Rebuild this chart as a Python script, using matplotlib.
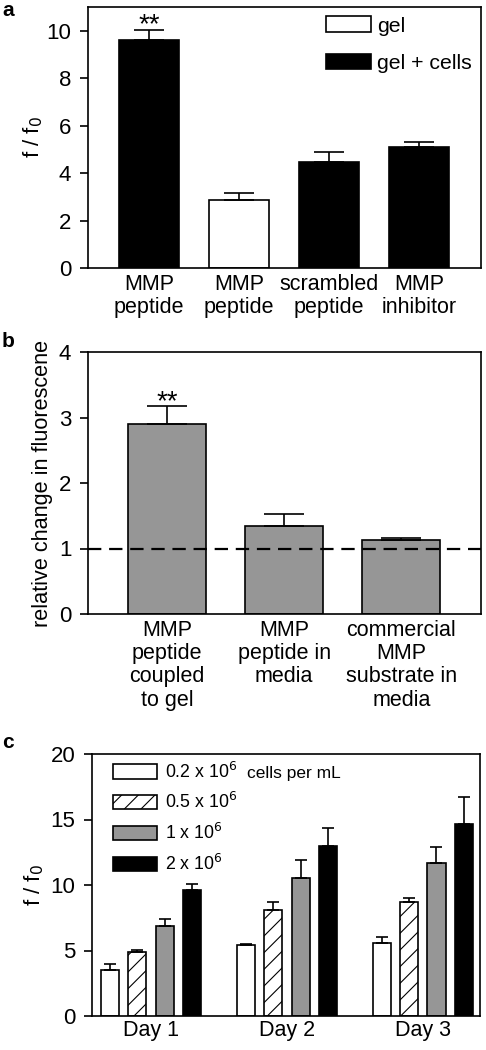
import numpy as np
import matplotlib
matplotlib.use("Agg")
import matplotlib.pyplot as plt
from matplotlib.patches import Patch

plt.rcParams['font.family'] = ['Liberation Sans', 'DejaVu Sans']
plt.rcParams['hatch.linewidth'] = 0.8
plt.rcParams['axes.linewidth'] = 1.2

# panel a
a_labels = ["MMP\npeptide", "MMP\npeptide", "scrambled\npeptide", "MMP\ninhibitor"]
a_vals = [9.6, 2.87, 4.47, 5.08]
a_errs = [0.45, 0.3, 0.42, 0.23]
a_cells = [True, False, True, True]

# panel b
b_labels = ["MMP\npeptide\ncoupled\nto gel", "MMP\npeptide in\nmedia",
            "commercial\nMMP\nsubstrate in\nmedia"]
b_vals = [2.9, 1.35, 1.13]
b_errs = [0.28, 0.17, 0.03]

# panel c
days = ["Day 1", "Day 2", "Day 3"]
dens_labels = ["0.2 x 10$^6$", "0.5 x 10$^6$", "1 x 10$^6$", "2 x 10$^6$"]
c_vals = [[3.5, 5.4, 5.6],
          [4.9, 8.1, 8.67],
          [6.9, 10.55, 11.7],
          [9.6, 12.97, 14.68]]
c_errs = [[0.45, 0.08, 0.4],
          [0.17, 0.58, 0.3],
          [0.5, 1.33, 1.2],
          [0.48, 1.36, 2.0]]

W, H = 486, 1050
fig = plt.figure(figsize=(W / 100, H / 100), dpi=100)
gray = '#969696'

def px_axes(l, r, t, b):
    return fig.add_axes([l / W, 1 - b / H, (r - l) / W, (b - t) / H])

def style(ax):
    ax.tick_params(axis='y', direction='out', length=6, width=1.2, labelsize=16, pad=6)
    ax.tick_params(axis='x', length=0, labelsize=15.5, pad=4)

# ---- a
ax = px_axes(88, 481, 7, 268)
x = np.arange(len(a_vals))
cols = ['black' if c else 'white' for c in a_cells]
ax.bar(x, a_vals, width=0.667, color=cols, edgecolor='black', linewidth=1.2, zorder=2)
ax.errorbar(x, a_vals, yerr=[np.zeros(len(a_errs)), a_errs], fmt='none',
            ecolor='black', elinewidth=1.2, capsize=10.8, capthick=1.2, zorder=3)
ax.text(x[0], a_vals[0] + a_errs[0] - 0.1, '**', ha='center', va='baseline', fontsize=20)
ax.set_xlim(-0.68, 3.69)
ax.set_ylim(0, 11)
ax.set_yticks([0, 2, 4, 6, 8, 10])
ax.set_xticks(x)
ax.set_xticklabels(a_labels, linespacing=1.15)
ax.set_ylabel('f / f$_0$', fontsize=16, labelpad=1)
style(ax)
hnd = [Patch(facecolor='white', edgecolor='black', linewidth=1.2, label='gel'),
       Patch(facecolor='black', edgecolor='black', linewidth=1.2, label='gel + cells')]
ax.legend(handles=hnd, loc='upper left', bbox_to_anchor=(0.595, 0.98), frameon=False,
          fontsize=15.3, handlelength=2.1, handleheight=0.75, labelspacing=0.85,
          handletextpad=0.3, borderpad=0.2, borderaxespad=0)

# ---- b
ax = px_axes(88, 481, 352, 614)
x = np.arange(len(b_vals))
ax.bar(x, b_vals, width=0.667, color=gray, edgecolor='black', linewidth=1.2, zorder=2)
ax.errorbar(x, b_vals, yerr=[np.zeros(len(b_errs)), b_errs], fmt='none',
            ecolor='black', elinewidth=1.2, capsize=14.4, capthick=1.2, zorder=3)
ax.axhline(1, color='black', linestyle=(0, (6, 3.5)), linewidth=1.6, zorder=4)
ax.text(x[0], b_vals[0] + b_errs[0] - 0.05, '**', ha='center', va='baseline', fontsize=20)
ax.set_xlim(-0.675, 2.68)
ax.set_ylim(0, 4)
ax.set_yticks([0, 1, 2, 3, 4])
ax.set_xticks(x)
ax.set_xticklabels(b_labels, linespacing=1.15)
ax.set_ylabel('relative change in fluorescene', fontsize=15.6, labelpad=4)
style(ax)

# ---- c
ax = px_axes(92, 480, 754, 1016)
g = np.arange(len(days))
fills = ['white', 'white', gray, 'black']
hatches = ['', '//', '', '']
for i in range(4):
    xi = g - 0.3 + 0.2 * i
    ax.bar(xi, c_vals[i], width=0.133, color=fills[i], hatch=hatches[i],
           edgecolor='black', linewidth=1.2, zorder=2, label=dens_labels[i])
    ax.errorbar(xi, c_vals[i], yerr=[np.zeros(3), c_errs[i]], fmt='none',
                ecolor='black', elinewidth=1.2, capsize=4.3, capthick=1.2, zorder=3)
ax.set_xlim(-0.434, 2.42)
ax.set_ylim(0, 20)
ax.set_yticks([0, 5, 10, 15, 20])
ax.set_xticks(g)
ax.set_xticklabels(days)
ax.set_ylabel('f / f$_0$', fontsize=16, labelpad=3)
style(ax)
ax.tick_params(axis='x', pad=3)
ax.legend(loc='upper left', bbox_to_anchor=(0.045, 0.985), frameon=False,
          fontsize=12.8, handlelength=2.5, handleheight=0.85, labelspacing=0.6,
          handletextpad=0.4, borderpad=0.2, borderaxespad=0)
ax.text(0.40, 0.927, 'cells per mL', transform=ax.transAxes, fontsize=12.5,
        ha='left', va='center')

# panel letters
fig.text(0.004, 0.999, 'a', fontsize=15, fontweight='bold', va='top')
fig.text(0.004, 1 - 332 / H, 'b', fontsize=15, fontweight='bold', va='top')
fig.text(0.004, 1 - 733 / H, 'c', fontsize=15, fontweight='bold', va='top')

fig.savefig('out.png', dpi=100)
